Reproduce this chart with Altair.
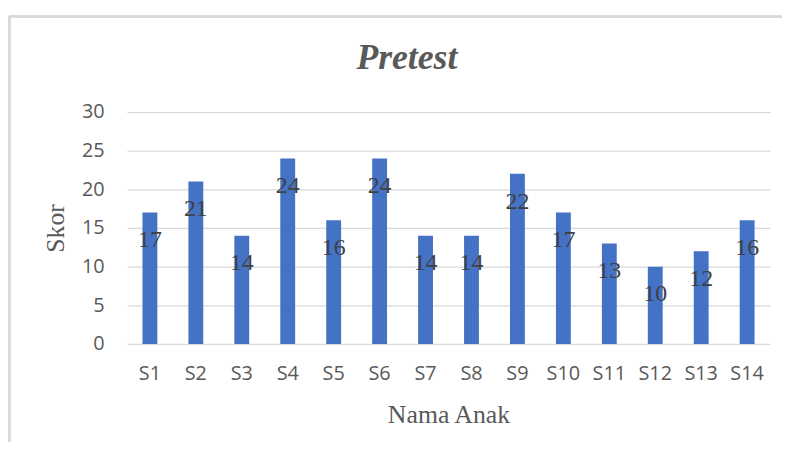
import altair as alt
import pandas as pd

categories = ["S1", "S2", "S3", "S4", "S5", "S6", "S7", "S8", "S9", "S10", "S11", "S12", "S13", "S14"]
scores = [17, 21, 14, 24, 16, 24, 14, 14, 22, 17, 13, 10, 12, 16]
y_ticks = [0, 5, 10, 15, 20, 25, 30]

df = pd.DataFrame({"Nama Anak": categories, "Skor": scores})

W, H = 649, 234
PAD = {"left": 120, "top": 103, "right": 12, "bottom": 99}

x = alt.X("Nama Anak:N", sort=categories,
          scale=alt.Scale(paddingInner=0, paddingOuter=0),
          axis=alt.Axis(title="Nama Anak", labelAngle=0, labelFont="Open Sans",
                        labelFontSize=20, labelColor="#595959", labelPadding=20,
                        ticks=False, domain=False, grid=False,
                        titleFont="Liberation Serif", titleFontSize=26,
                        titleFontWeight="normal", titleColor="#595959",
                        titlePadding=18))
y = alt.Y("Skor:Q", scale=alt.Scale(domain=[0, 30], nice=False),
          axis=alt.Axis(title="Skor", values=y_ticks, labelOverlap=False,
                        labelFont="Open Sans", labelFontSize=20, labelColor="#595959",
                        labelPadding=23, ticks=False, domain=False,
                        grid=True, gridColor="#D9D9D9", gridWidth=1.3,
                        titleFont="Liberation Serif", titleFontSize=26,
                        titleFontWeight="normal", titleColor="#595959",
                        titlePadding=13))

bars = alt.Chart(df).mark_bar(size=15, color="#4472C4").encode(x=x, y=y)
labels = alt.Chart(df).mark_text(font="Liberation Serif", fontSize=24, color="#404040",
                                 baseline="middle", dy=28).encode(
    x=x, y=y, text="Skor:Q")

border_top = alt.Chart(df).mark_rule(color="#D9D9D9", strokeWidth=1.5).encode(
    x=alt.value(-118.5), x2=alt.value(665), y=alt.value(-96.5))
border_left = alt.Chart(df).mark_rule(color="#D9D9D9", strokeWidth=1.5).encode(
    x=alt.value(-118.5), y=alt.value(-96.5), y2=alt.value(H + 99))

chart = alt.layer(bars, labels, border_top, border_left).properties(
    width=W, height=H,
    autosize=alt.AutoSizeParams(type="none"),
    padding=PAD,
    title=alt.TitleParams("Pretest", font="Liberation Serif", fontSize=36,
                          fontStyle="italic", fontWeight="bold", color="#595959",
                          anchor="middle", frame="group", dx=-42, offset=-62),
).configure_view(stroke=None).configure_axis(labelOverlap=False)

chart.save("out.html", embed_options={"renderer": "svg", "actions": False})
